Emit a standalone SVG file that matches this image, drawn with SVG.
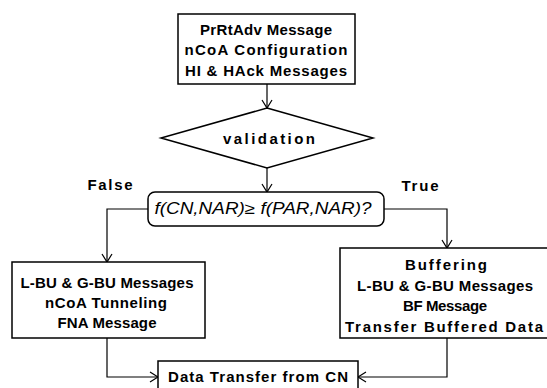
<svg xmlns="http://www.w3.org/2000/svg" width="547" height="388" viewBox="0 0 547 388">
<defs>
<marker id="arr" markerUnits="userSpaceOnUse" markerWidth="14" markerHeight="14" viewBox="0 0 14 14" refX="12" refY="7" orient="auto">
<path d="M4,2 L12,7 L4,12" fill="none" stroke="#000" stroke-width="1.2"/>
</marker>
</defs>
<style>
.box{fill:#fff;stroke:#000;stroke-width:1.5}
.t{font-family:"Liberation Sans",Arial,sans-serif;font-size:15px;font-weight:bold;text-anchor:middle;fill:#000}
.i{font-style:italic;font-weight:normal;font-size:16px}
.c{fill:none;stroke:#000;stroke-width:1.2}
</style>
<rect width="547" height="388" fill="#fff"/>
<g id="connectors">
<path class="c" d="M267,84 V108" marker-end="url(#arr)"/>
<path class="c" d="M267,168 V192" marker-end="url(#arr)"/>
<path class="c" d="M148,209 H107 V262" marker-end="url(#arr)"/>
<path class="c" d="M384,209 H447 V248" marker-end="url(#arr)"/>
<path class="c" d="M107,338 V377 H158" marker-end="url(#arr)"/>
<path class="c" d="M447,338 V377 H358" marker-end="url(#arr)"/>
</g>
<g id="start">
<rect class="box" x="178" y="14" width="177" height="70"/>
<text class="t" x="266" y="35" textLength="132" lengthAdjust="spacing">PrRtAdv Message</text>
<text class="t" x="266" y="55" textLength="163" lengthAdjust="spacing">nCoA Configuration</text>
<text class="t" x="266" y="76" textLength="162" lengthAdjust="spacing">HI &amp; HAck Messages</text>
</g>
<g id="validation">
<polygon class="box" points="267,108 373,138 267,168 161,138"/>
<text class="t" x="269" y="144" textLength="92" lengthAdjust="spacing">validation</text>
</g>
<g id="condition">
<rect class="box" x="148" y="192" width="236" height="34" rx="7"/>
<text class="t i" x="263" y="214" textLength="217" lengthAdjust="spacingAndGlyphs">f(CN,NAR)≥ f(PAR,NAR)?</text>
</g>
<g id="labels">
<text class="t" x="110" y="190" textLength="45" lengthAdjust="spacing">False</text>
<text class="t" x="420" y="191" textLength="37" lengthAdjust="spacing">True</text>
</g>
<g id="false-branch">
<rect class="box" x="12" y="262" width="193" height="76"/>
<text class="t" x="107" y="288" textLength="173" lengthAdjust="spacing">L-BU &amp; G-BU Messages</text>
<text class="t" x="106" y="308" textLength="122" lengthAdjust="spacing">nCoA Tunneling</text>
<text class="t" x="107" y="328" textLength="99" lengthAdjust="spacing">FNA Message</text>
</g>
<g id="true-branch">
<rect class="box" x="340" y="248" width="212" height="90"/>
<text class="t" x="446" y="270" textLength="82" lengthAdjust="spacing">Buffering</text>
<text class="t" x="445" y="291" textLength="176" lengthAdjust="spacing">L-BU &amp; G-BU Messages</text>
<text class="t" x="445" y="311" textLength="84" lengthAdjust="spacing">BF Message</text>
<text class="t" x="444" y="332" textLength="198" lengthAdjust="spacing">Transfer Buffered Data</text>
</g>
<g id="data-transfer">
<rect class="box" x="158" y="361" width="200" height="32"/>
<text class="t" x="258" y="382" textLength="180" lengthAdjust="spacing">Data Transfer from CN</text>
</g>
</svg>
